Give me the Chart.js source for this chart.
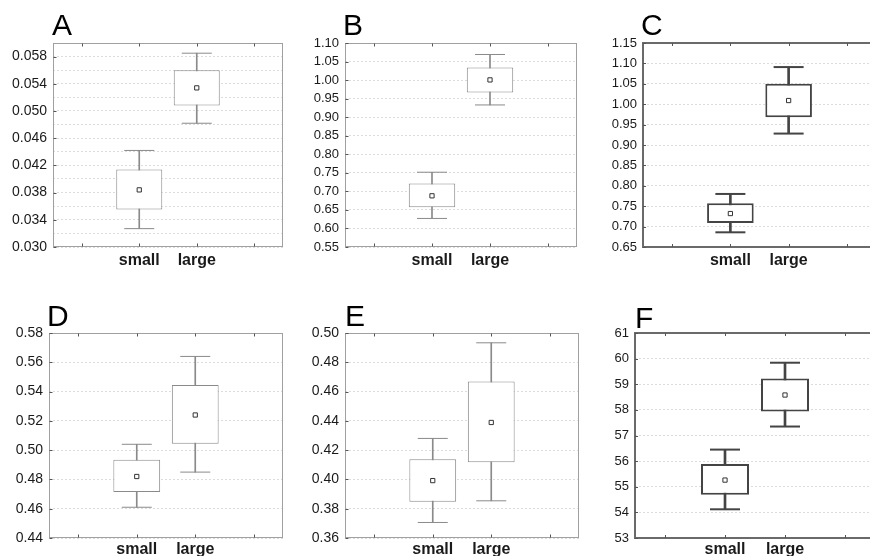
<!DOCTYPE html>
<html>
<head>
<meta charset="utf-8">
<script src="https://cdn.jsdelivr.net/npm/chart.js@4.4.1/dist/chart.umd.min.js"></script>
<style>
  html, body { margin: 0; padding: 0; overflow: hidden; background: #fff; }
  body { position: relative; width: 870px; height: 556px; font-family: "Liberation Sans", Arial, sans-serif; }
  .panel { position: absolute; }
  .letter { position: absolute; font-size: 30px; line-height: 1; color: #000; }
</style>
</head>
<body>
<div id="wrap"></div>
<script>
// x categories (outer two are empty slots)
const categories = ['', 'small', 'large', ''];
const letters = ['A', 'B', 'C', 'D', 'E', 'F'];

// per group: [whisker low, box low, mean, box high, whisker high]
const aSmall = [0.0327, 0.0355, 0.0384, 0.0414, 0.0442];
const aLarge = [0.0482, 0.0508, 0.0534, 0.0560, 0.0585];
const bSmall = [0.627, 0.6575, 0.688, 0.721, 0.7516];
const bLarge = [0.933, 0.9667, 1.0005, 1.034, 1.069];
const cSmall = [0.686, 0.709, 0.732, 0.7575, 0.780];
const cLarge = [0.928, 0.968, 1.009, 1.050, 1.091];
const dSmall = [0.461, 0.4715, 0.482, 0.4935, 0.504];
const dLarge = [0.485, 0.5044, 0.524, 0.5445, 0.564];
const eSmall = [0.3706, 0.3847, 0.3992, 0.4137, 0.428];
const eLarge = [0.3854, 0.4117, 0.4389, 0.4668, 0.4933];
const fSmall = [54.12, 54.69, 55.26, 55.89, 56.45];
const fLarge = [57.35, 57.94, 58.58, 59.22, 59.84];

// y axes
const yMin = [0.030, 0.55, 0.65, 0.44, 0.36, 53];
const yMax = [0.060, 1.10, 1.15, 0.58, 0.50, 61];
const yStep = [0.002, 0.05, 0.05, 0.02, 0.02, 1];
const yLabelEvery = [2, 1, 1, 1, 1, 1];
const yDecimals = [3, 2, 2, 2, 2, 0];

const smalls = [aSmall, bSmall, cSmall, dSmall, eSmall, fSmall];
const larges = [aLarge, bLarge, cLarge, dLarge, eLarge, fLarge];

// layout: plot area rectangles in page pixels, letter positions, styles
const plotRect = [
  [53, 43, 283, 247], [345, 43, 577, 247], [643, 43, 876, 247],
  [49, 333, 283, 538], [345, 333, 579, 538], [635, 333, 875, 538]
];
const letterPos = [[52, 10], [343, 10], [641, 10], [47, 301], [345, 301], [635, 303]];
const tickFont = [14, 13, 13, 14, 14, 13];
const xPad = [4, 4, 4, 2, 2, 2];
const heavy = [false, false, true, false, false, true];

const framePlugin = {
  id: 'frame',
  afterDatasetsDraw(chart, args, opts) {
    const { ctx, chartArea: a, scales: { x, y } } = chart;
    const off = opts.width % 2 ? 0.5 : 0;
    const L = Math.round(a.left) + off, T = Math.round(a.top) + off;
    const R = Math.round(a.right) - off, B = Math.round(a.bottom) - off;
    ctx.save();
    ctx.strokeStyle = opts.color;
    ctx.lineWidth = opts.width;
    ctx.strokeRect(L, T, R - L, B - T);
    ctx.strokeStyle = opts.tickColor;
    ctx.lineWidth = 1;
    ctx.beginPath();
    x.ticks.forEach((t, i) => {
      const px = Math.round(x.getPixelForTick(i)) + 0.5;
      ctx.moveTo(px, T); ctx.lineTo(px, T + 3);
      ctx.moveTo(px, B); ctx.lineTo(px, B - 3);
    });
    y.ticks.forEach((t, i) => {
      if (!t.label) return;
      const py = Math.round(y.getPixelForTick(i)) + 0.5;
      ctx.moveTo(L, py); ctx.lineTo(L + 3, py);
    });
    ctx.stroke();
    ctx.restore();
  }
};

const wrap = document.getElementById('wrap');
const yw = 52, padT = 16, padR = 10, xh = 32;

letters.forEach((letter, p) => {
  const [l, t, r, b] = plotRect[p];
  const left = l - yw, top = t - padT;
  const width = r + padR - left, height = b + xh - top;

  const div = document.createElement('div');
  div.className = 'panel';
  div.style.left = left + 'px';
  div.style.top = top + 'px';
  const canvas = document.createElement('canvas');
  canvas.width = width; canvas.height = height;
  canvas.style.width = width + 'px'; canvas.style.height = height + 'px';
  div.appendChild(canvas);
  wrap.appendChild(div);

  const lab = document.createElement('div');
  lab.className = 'letter';
  lab.textContent = letter;
  lab.style.left = letterPos[p][0] + 'px';
  lab.style.top = letterPos[p][1] + 'px';
  wrap.appendChild(lab);

  const s = smalls[p], g = larges[p];
  const lineColor = heavy[p] ? '#444' : '#8a8a8a';
  const lw = heavy[p] ? 2 : 1;
  const pick = k => [null, s[k], g[k], null];

  new Chart(canvas, {
    type: 'bar',
    data: {
      labels: categories,
      datasets: [
        {
          type: 'line', data: pick(2), showLine: false,
          pointStyle: 'rect', pointRadius: 3, pointBackgroundColor: '#fff',
          pointBorderColor: '#333', pointBorderWidth: 1, order: 0
        },
        {
          type: 'line', data: pick(4), showLine: false,
          pointStyle: 'line', pointRadius: 15, pointBorderColor: lineColor,
          pointBorderWidth: lw, order: 1
        },
        {
          type: 'line', data: pick(0), showLine: false,
          pointStyle: 'line', pointRadius: 15, pointBorderColor: lineColor,
          pointBorderWidth: lw, order: 1
        },
        {
          data: [null, [s[1], s[3]], [g[1], g[3]], null],
          backgroundColor: '#fff', borderColor: lineColor, borderWidth: lw,
          borderSkipped: false, barPercentage: 0.8, categoryPercentage: 1,
          grouped: false, order: 2
        },
        {
          data: [null, [s[0], s[4]], [g[0], g[4]], null],
          backgroundColor: lineColor, borderWidth: 0, barThickness: lw,
          grouped: false, order: 3
        }
      ]
    },
    options: {
      responsive: false,
      animation: false,
      layout: { autoPadding: false, padding: { top: padT, right: padR, left: 0, bottom: 0 } },
      plugins: {
        legend: { display: false },
        tooltip: { enabled: false },
        frame: {
          color: heavy[p] ? '#6a6a6a' : '#a0a0a0',
          width: heavy[p] ? 2 : 1,
          tickColor: '#555'
        }
      },
      scales: {
        x: {
          type: 'category',
          offset: true,
          grid: { display: false, drawTicks: false },
          border: { display: false },
          ticks: {
            color: '#1a1a1a', padding: xPad[p], autoSkip: false, maxRotation: 0,
            font: { family: '"Liberation Sans", Arial, sans-serif', size: 16, weight: 'bold' }
          },
          afterFit: sc => { sc.height = xh; }
        },
        y: {
          min: yMin[p], max: yMax[p],
          grid: { color: '#dcdcdc', lineWidth: 1, drawTicks: false },
          border: { display: false, dash: [2, 2] },
          ticks: {
            stepSize: yStep[p], autoSkip: false, padding: 6, color: '#1a1a1a',
            font: { family: '"Liberation Sans", Arial, sans-serif', size: tickFont[p] },
            callback: (v, i) => i % yLabelEvery[p] === 0 ? Number(v).toFixed(yDecimals[p]) : ''
          },
          afterFit: sc => { sc.width = yw; }
        }
      }
    },
    plugins: [framePlugin]
  });
});
</script>
</body>
</html>
